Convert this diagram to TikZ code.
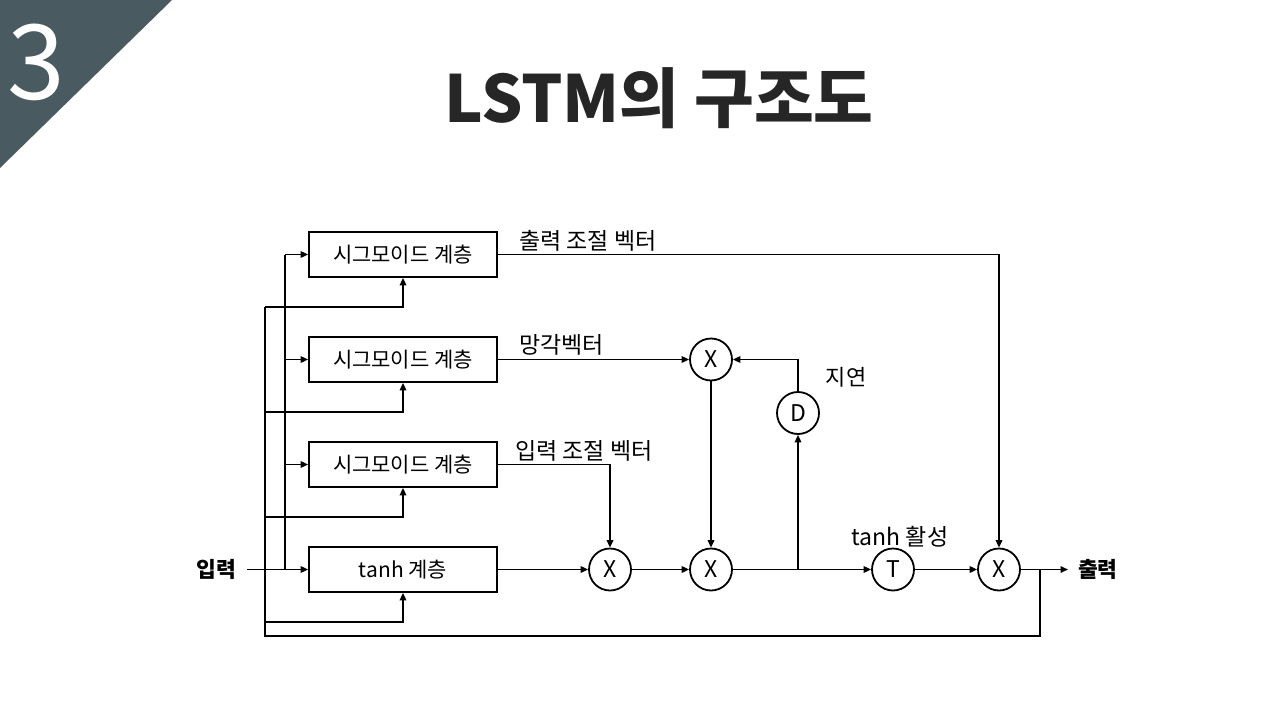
\documentclass[tikz,border=0pt]{standalone}
\usepackage{fontspec}
\setmainfont{Noto Sans CJK KR}
\usetikzlibrary{arrows.meta}
\definecolor{slate}{RGB}{74,90,97}
\definecolor{titlegray}{RGB}{38,38,38}
\begin{document}
\begin{tikzpicture}[x=1pt,y=-1pt,
  layerbox/.style={draw, line width=1.8pt, minimum width=188pt, minimum height=45pt, inner sep=0pt, font=\fontsize{21}{24}\selectfont},
  op/.style={draw, circle, line width=1.8pt, minimum size=42pt, inner sep=0pt, font=\fontsize{23}{24}\selectfont},
  wire/.style={line width=1.8pt},
  arr/.style={wire, -{Triangle[length=7.5pt,width=6.5pt]}},
  lbl/.style={font=\fontsize{23}{26}\selectfont, inner sep=0pt},
  io/.style={font=\fontsize{21.5}{24}\selectfont\bfseries, inner sep=0pt}]
\useasboundingbox (0,0) rectangle (1280,720);
\fill[slate] (0,0) -- (172,0) -- (0,168) -- cycle;
\node[white, font=\fontsize{104}{110}\selectfont, inner sep=0pt] (num) at (36,62) {3};
\node[titlegray, font=\fontsize{65}{70}\selectfont\bfseries, inner sep=0pt] (title) at (659,98) {LSTM의 구조도};

\node[layerbox] (s1) at (403,254.5) {시그모이드 계층};
\node[layerbox] (s2) at (403,359.5) {시그모이드 계층};
\node[layerbox] (s3) at (403,464.5) {시그모이드 계층};
\node[layerbox] (s4) at (403,569.5) {tanh 계층};

\node[op] (x1) at (610,569.5) {X};
\node[op] (x2) at (711,569.5) {X};
\node[op] (x3) at (711,359.5) {X};
\node[op] (d) at (798,413) {D};
\node[op] (t) at (893,569.5) {T};
\node[op] (x4) at (999,569.5) {X};

\node[io, anchor=east] (in) at (236,569.5) {입력};
\node[io, anchor=west] (out) at (1078,569.5) {출력};

\node[lbl, anchor=west] (l1) at (519,241) {출력 조절 벡터};
\node[lbl, anchor=west] (l2) at (519,345) {망각벡터};
\node[lbl, anchor=west] (l3) at (515,451) {입력 조절 벡터};
\node[lbl, font=\fontsize{22}{24}\selectfont] (l4) at (846,377) {지연};
\node[lbl] (l5) at (900,537) {tanh 활성};

\coordinate (busA) at (285,0);
\coordinate (busB) at (265,0);
\coordinate (instart) at (247,569.5);
\coordinate (outend) at (1068,569.5);
\coordinate (split) at (1040,569.5);
\coordinate (fb) at (1040,636);
\coordinate (b1) at ([yshift=-29pt]s1.south);
\coordinate (b2) at ([yshift=-29pt]s2.south);
\coordinate (b3) at ([yshift=-29pt]s3.south);
\coordinate (b4) at ([yshift=-29pt]s4.south);

% input bus A
\draw[arr] (instart) -- (s4.west);
\draw[wire] (busA |- s1.west) -- (busA |- s4.west);
\draw[arr] (busA |- s1.west) -- (s1.west);
\draw[arr] (busA |- s2.west) -- (s2.west);
\draw[arr] (busA |- s3.west) -- (s3.west);

% recurrent bus B
\draw[wire] (busB |- b1) -- (busB |- fb) -- (fb) -- (split);
\draw[arr] (busB |- b1) -- (b1) -- (s1.south);
\draw[arr] (busB |- b2) -- (b2) -- (s2.south);
\draw[arr] (busB |- b3) -- (b3) -- (s3.south);
\draw[arr] (busB |- b4) -- (b4) -- (s4.south);

% gates
\draw[arr] (s1.east) -- (x4 |- s1.east) -- (x4.north);
\draw[arr] (s2.east) -- (x3.west);
\draw[arr] (s3.east) -- (x1 |- s3.east) -- (x1.north);
\draw[arr] (s4.east) -- (x1.west);
\draw[arr] (x1.east) -- (x2.west);
\draw[arr] (x3.south) -- (x2.north);
\draw[arr] (x2.east) -- (t.west);
\draw[arr] (d |- x2.east) -- (d.south);
\draw[arr] (d.north) -- (d |- x3.east) -- (x3.east);
\draw[arr] (t.east) -- (x4.west);
\draw[arr] (x4.east) -- (outend);
\end{tikzpicture}
\end{document}
